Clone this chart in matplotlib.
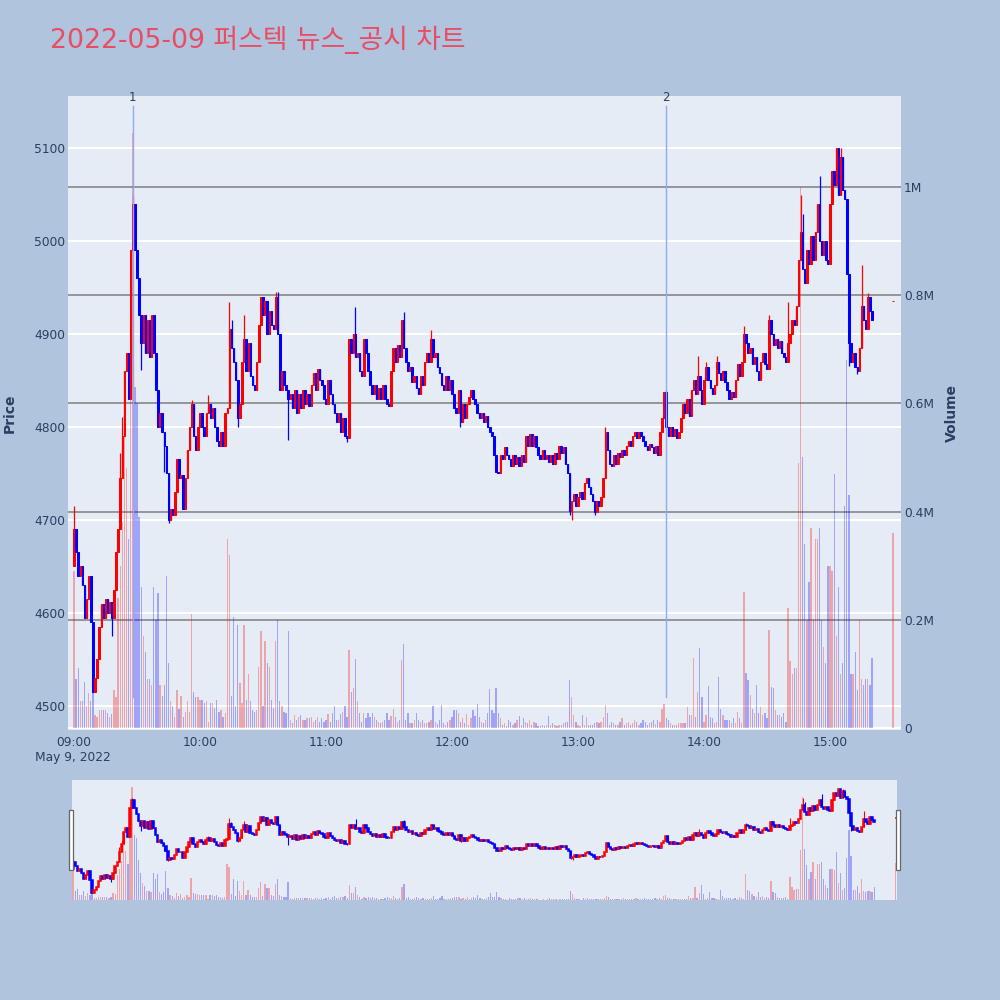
import numpy as np
import pandas as pd
import matplotlib
matplotlib.use("Agg")
import matplotlib.pyplot as plt
from matplotlib.patches import Rectangle

plt.rcParams['font.family'] = ['DejaVu Sans', 'Noto Sans CJK KR']

# ---------------- data ----------------
title = "2022-05-09 퍼스텍 뉴스_공시 차트"
trade_date = "2022-05-09"
session_start = "09:00"
first_open = 4650

closes = [
    4690, 4665, 4640, 4650, 4630, 4595, 4615, 4640, 4590, 4515,
    4530, 4550, 4585, 4610, 4595, 4615, 4600, 4612, 4595, 4625,
    4665, 4690, 4745, 4790, 4860, 4880, 4830, 4990, 5040, 4990,
    4960, 4920, 4890, 4920, 4880, 4915, 4875, 4920, 4880, 4840,
    4800, 4815, 4795, 4780, 4750, 4700, 4712, 4705, 4730, 4765,
    4745, 4748, 4712, 4745, 4775, 4800, 4825, 4790, 4775, 4800,
    4815, 4800, 4790, 4815, 4825, 4810, 4820, 4800, 4785, 4780,
    4795, 4780, 4815, 4820, 4905, 4885, 4870, 4850, 4810, 4825,
    4870, 4895, 4860, 4890, 4855, 4845, 4840, 4870, 4910, 4940,
    4920, 4935, 4900, 4925, 4910, 4905, 4940, 4900, 4840, 4860,
    4845, 4840, 4830, 4835, 4820, 4840, 4815, 4835, 4820, 4840,
    4825, 4835, 4822, 4845, 4858, 4840, 4862, 4850, 4845, 4830,
    4825, 4850, 4835, 4825, 4815, 4805, 4815, 4795, 4810, 4790,
    4788, 4895, 4880, 4900, 4875, 4880, 4860, 4855, 4895, 4880,
    4860, 4845, 4835, 4845, 4830, 4842, 4830, 4845, 4830, 4825,
    4822, 4860, 4885, 4870, 4888, 4875, 4915, 4885, 4870, 4860,
    4865, 4848, 4855, 4842, 4835, 4855, 4845, 4870, 4880, 4870,
    4895, 4875, 4880, 4865, 4858, 4845, 4840, 4855, 4840, 4850,
    4835, 4820, 4815, 4840, 4805, 4825, 4810, 4825, 4832, 4840,
    4830, 4825, 4815, 4810, 4815, 4805, 4812, 4800, 4795, 4790,
    4770, 4752, 4750, 4770, 4765, 4778, 4770, 4765, 4758, 4770,
    4760, 4768, 4758, 4770, 4762, 4790, 4780, 4792, 4780, 4790,
    4778, 4770, 4765, 4775, 4765, 4770, 4762, 4770, 4760, 4772,
    4765, 4780, 4772, 4778, 4760, 4750, 4710, 4720, 4728, 4715,
    4725, 4730, 4722, 4740, 4745, 4735, 4728, 4720, 4708, 4720,
    4715, 4725, 4745, 4795, 4775, 4760, 4758, 4770, 4760, 4772,
    4768, 4775, 4770, 4780, 4785, 4780, 4790, 4795, 4788, 4795,
    4790, 4785, 4780, 4775, 4782, 4778, 4772, 4780, 4770, 4795,
    4810, 4838, 4800, 4790, 4800, 4790, 4798, 4788, 4795, 4810,
    4825, 4815, 4830, 4812, 4840, 4850, 4835, 4855, 4840, 4825,
    4850, 4865, 4850, 4842, 4835, 4845, 4870, 4858, 4850, 4860,
    4848, 4840, 4830, 4838, 4832, 4850, 4868, 4855, 4870, 4900,
    4890, 4880, 4885, 4868, 4875, 4860, 4850, 4870, 4880, 4868,
    4862, 4915, 4900, 4888, 4895, 4885, 4892, 4880, 4875, 4870,
    4890, 4900, 4915, 4910, 4930, 4980, 5010, 4970, 4955, 4990,
    4975, 5005, 4980, 5010, 5040, 5000, 4985, 5000, 4980, 4975,
    5040, 5075, 5060, 5100, 5050, 5090, 5055, 5045, 4965, 4890,
    4870, 4880, 4865, 4860, 4885, 4930, 4915, 4905, 4940, 4925,
    4915,
]

volumes_k = [
    290, 90, 110, 50, 50, 85, 40, 65, 50, 80,
    24, 21, 33, 33, 33, 33, 27, 20, 25, 70,
    58, 240, 300, 380, 540, 480, 350, 880, 1100, 630,
    600, 390, 260, 170, 140, 90, 90, 80, 260, 200,
    250, 80, 60, 80, 280, 120, 50, 40, 20, 70,
    35, 60, 20, 30, 50, 30, 210, 67, 58, 58,
    52, 52, 46, 49, 12, 46, 46, 37, 52, 30,
    33, 21, 27, 350, 320, 60, 206, 40, 190, 83,
    46, 190, 52, 100, 49, 33, 30, 33, 113, 180,
    40, 160, 120, 113, 52, 37, 160, 200, 49, 40,
    30, 27, 180, 15, 9, 24, 15, 21, 24, 15,
    15, 18, 18, 20, 12, 15, 20, 12, 18, 12,
    15, 25, 12, 27, 40, 15, 15, 25, 30, 40,
    20, 145, 67, 73, 128, 50, 28, 12, 27, 18,
    27, 20, 28, 20, 15, 12, 9, 12, 15, 27,
    15, 22, 35, 20, 12, 15, 125, 155, 15, 27,
    9, 9, 15, 27, 15, 12, 15, 9, 9, 12,
    15, 40, 12, 8, 15, 43, 9, 5, 12, 15,
    20, 34, 34, 28, 12, 18, 9, 25, 6, 18,
    34, 22, 45, 21, 12, 9, 15, 28, 72, 34,
    28, 74, 28, 18, 6, 9, 4, 15, 12, 6,
    9, 15, 22, 6, 18, 12, 9, 15, 6, 12,
    9, 4, 4, 6, 4, 6, 22, 6, 9, 6,
    4, 5, 6, 9, 12, 12, 89, 58, 24, 12,
    5, 3, 24, 6, 21, 5, 6, 5, 9, 12,
    9, 12, 20, 42, 27, 6, 12, 9, 5, 5,
    12, 18, 5, 9, 12, 6, 9, 15, 12, 6,
    9, 15, 12, 5, 9, 12, 15, 8, 15, 12,
    36, 45, 18, 15, 9, 6, 5, 6, 9, 9,
    9, 9, 39, 24, 24, 129, 20, 67, 147, 58,
    12, 24, 77, 21, 18, 9, 12, 95, 36, 24,
    15, 15, 15, 9, 18, 9, 30, 18, 9, 251,
    101, 89, 61, 36, 27, 80, 27, 39, 24, 27,
    18, 181, 76, 73, 33, 24, 24, 21, 27, 12,
    221, 123, 100, 110, 110, 490, 1000, 500, 340, 200,
    270, 370, 200, 350, 350, 370, 200, 150, 120, 300,
    300, 290, 470, 170, 260, 100, 120, 410, 680, 430,
    100, 100, 140, 70, 200, 90, 80, 90, 90, 80,
    130,
]

# extra wick extremes (minute index -> price)
wick_high = {0: 4715, 22: 4772, 23: 4811, 28: 5050, 29: 5030, 56: 4829, 64: 4834,
             74: 4934, 75: 4915, 81: 4920, 96: 4945, 97: 4945, 134: 4929, 157: 4924,
             170: 4904, 253: 4800, 282: 4840, 297: 4876, 301: 4870, 306: 4876,
             319: 4909, 331: 4920, 340: 4934, 346: 5050, 347: 5029, 355: 5070,
             364: 5090, 365: 5100, 375: 4974, 378: 4944}
wick_low = {18: 4575, 32: 4861, 43: 4752, 45: 4697, 78: 4800, 102: 4786, 130: 4784,
            184: 4800, 236: 4705, 237: 4700, 248: 4705, 369: 4866, 373: 4857}

auction_time = "15:30"
auction_price = 4935
auction_volume_k = 360

news_marks = {"1": "09:28", "2": "13:42"}

price_ticks = [4500, 4600, 4700, 4800, 4900, 5000, 5100]
volume_ticks_k = [0, 200, 400, 600, 800, 1000]
volume_tick_labels = ["0", "0.2M", "0.4M", "0.6M", "0.8M", "1M"]
time_tick_labels = ["09:00", "10:00", "11:00", "12:00", "13:00", "14:00", "15:00"]
date_label = "May 9, 2022"

# ---------------- derived ----------------
t0 = pd.Timestamp(f"{trade_date} {session_start}")
def minute_of(hhmm):
    return (pd.Timestamp(f"{trade_date} {hhmm}") - t0).total_seconds() / 60.0

times = pd.date_range(t0, periods=len(closes), freq="min")
x = np.asarray((times - t0).total_seconds() / 60.0)
c = np.array(closes, dtype=float)
o = np.concatenate([[first_open], c[:-1]])
h = np.maximum(o, c)
l = np.minimum(o, c)
for k, v in wick_high.items():
    h[k] = max(h[k], v)
for k, v in wick_low.items():
    l[k] = min(l[k], v)

xa = minute_of(auction_time)
x = np.append(x, xa)
o = np.append(o, auction_price)
c = np.append(c, auction_price)
h = np.append(h, auction_price)
l = np.append(l, auction_price)
vol = np.append(np.array(volumes_k, dtype=float), auction_volume_k)

up = c >= o
ccol = np.where(up, "#ff0000", "#0000ff")

# ---------------- figure ----------------
BG = "#b0c4de"
PLOT_BG = "#e5ecf6"
TXT = "#2a3f5f"

fig = plt.figure(figsize=(10, 10), dpi=100, facecolor=BG)

W, H = 1000.0, 1000.0
def rect(l_, t_, r_, b_):
    return [l_ / W, 1 - b_ / H, (r_ - l_) / W, (b_ - t_) / H]

main_rect = rect(68, 96, 901, 730)
xlim_main = (-2.86, 393.8)
price_lim = (4474, 5156)
vol_lim = (-3.7, 1168)


def draw_candles(ax, body_w, edge_lw, wick_lw):
    ax.vlines(x, l, h, colors=ccol, linewidth=wick_lw, zorder=3)
    ax.bar(x, np.abs(c - o), bottom=np.minimum(o, c), width=body_w,
           color=ccol, edgecolor=ccol, linewidth=edge_lw, zorder=4)


def draw_volume(ax, width):
    ax.bar(x, vol, width=width, color=ccol, alpha=0.3, linewidth=0, zorder=2)


# background axis: price grid + left ticks + x ticks
ax_bg = fig.add_axes(main_rect, facecolor=PLOT_BG, zorder=0)
ax_bg.set_xlim(*xlim_main)
ax_bg.set_ylim(*price_lim)
ax_bg.set_yticks(price_ticks)
ax_bg.set_yticklabels([str(p) for p in price_ticks])
for p in price_ticks:
    ax_bg.axhline(p, color="white", linewidth=1.5, zorder=0.5)
ax_bg.set_xticks([minute_of(t) for t in time_tick_labels])
ax_bg.set_xticklabels(time_tick_labels)
ax_bg.tick_params(axis="both", length=0, labelsize=8.8, colors=TXT)
ax_bg.tick_params(axis="y", pad=2)
ax_bg.tick_params(axis="x", pad=4)
for s in ax_bg.spines.values():
    s.set_visible(False)

# volume axis
ax_vol = fig.add_axes(main_rect, facecolor="none", zorder=1)
ax_vol.set_xlim(*xlim_main)
ax_vol.set_ylim(*vol_lim)
ax_vol.axhline(0, color="white", linewidth=1.5, zorder=0.5)
for v in volume_ticks_k[1:]:
    ax_vol.axhline(v, color="#8e8e8e", linewidth=1.3, zorder=0.6)
draw_volume(ax_vol, 0.6)
ax_vol.yaxis.tick_right()
ax_vol.set_yticks(volume_ticks_k)
ax_vol.set_yticklabels(volume_tick_labels)
ax_vol.set_xticks([])
ax_vol.tick_params(axis="y", length=0, labelsize=8.8, colors=TXT, pad=2)
for s in ax_vol.spines.values():
    s.set_visible(False)

# candles axis
ax_px = fig.add_axes(main_rect, facecolor="none", zorder=2)
ax_px.set_xlim(*xlim_main)
ax_px.set_ylim(*price_lim)
draw_candles(ax_px, 0.7, 0.75, 0.9)
# news marks
for lab, tm in news_marks.items():
    xm = minute_of(tm)
    ax_px.plot([xm, xm], [0.052, 0.985], transform=ax_px.get_xaxis_transform(),
               color="#94aaf0", linewidth=1.0, zorder=5)
    ax_px.text(xm, 0.998, lab, transform=ax_px.get_xaxis_transform(),
               ha="center", va="center", fontsize=8.5, color=TXT, zorder=6)
ax_px.set_xticks([])
ax_px.set_yticks([])
for s in ax_px.spines.values():
    s.set_visible(False)

# texts
fig.text(50 / W, 1 - 40 / H, title, ha="left", va="center", fontsize=19.3,
         color="#e84d63")
fig.text(73 / W, 1 - 757 / H, date_label, ha="center", va="center",
         fontsize=8.8, color=TXT)
fig.text(10 / W, 1 - 413 / H, "Price", rotation=90, ha="center", va="center",
         fontsize=10, color=TXT, fontweight="bold")
fig.text(952 / W, 1 - 413 / H, "Volume", rotation=90, ha="center", va="center",
         fontsize=10, color=TXT, fontweight="bold")

# ---------------- range slider ----------------
slider_rect = rect(72, 780, 897, 900)
xlim_sl = (-0.5, 390.8)
ax_s1 = fig.add_axes(slider_rect, facecolor=PLOT_BG, zorder=0)
ax_s1.set_xlim(*xlim_sl)
ax_s1.set_ylim(0, 1170)
draw_volume(ax_s1, 0.6)
ax_s1.set_xticks([]); ax_s1.set_yticks([])
for s in ax_s1.spines.values():
    s.set_visible(False)
ax_s2 = fig.add_axes(slider_rect, facecolor="none", zorder=1)
ax_s2.set_xlim(*xlim_sl)
ax_s2.set_ylim(4476, 5150)
draw_candles(ax_s2, 0.7, 1.1, 0.8)
ax_s2.set_xticks([]); ax_s2.set_yticks([])
for s in ax_s2.spines.values():
    s.set_visible(False)

# slider handles
for hx in (68.5, 895.5):
    fig.patches.append(Rectangle((hx / W, 1 - 870 / H), 4.5 / W, 60 / H,
                                 transform=fig.transFigure, facecolor="white",
                                 edgecolor="#666666", linewidth=0.9, zorder=5))

fig.savefig("out.png", dpi=100, facecolor=BG)
